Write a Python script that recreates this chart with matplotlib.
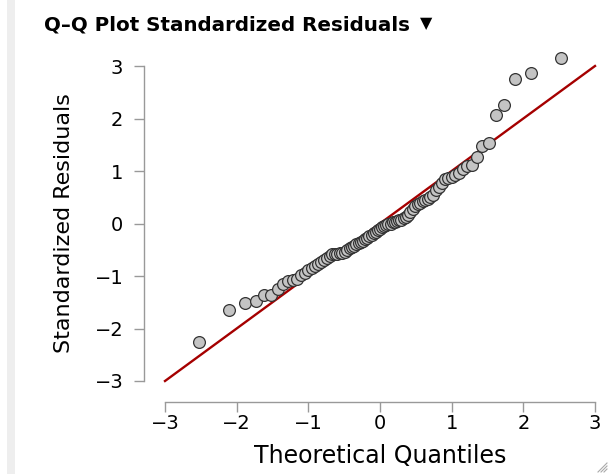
import matplotlib
matplotlib.use("Agg")
import matplotlib.pyplot as plt
from matplotlib.patches import Rectangle
from matplotlib.lines import Line2D
from statistics import NormalDist

# Sorted standardized residuals
residuals = [
    -2.25, -1.645, -1.51, -1.47, -1.37, -1.36, -1.24, -1.15, -1.09, -1.07,
    -1.05, -0.98, -0.94, -0.88, -0.84, -0.80, -0.77, -0.73, -0.70, -0.66,
    -0.62, -0.59, -0.58, -0.575, -0.57, -0.56, -0.55, -0.50, -0.47, -0.44,
    -0.42, -0.39, -0.38, -0.36, -0.33, -0.30, -0.27, -0.24, -0.22, -0.19,
    -0.16, -0.13, -0.10, -0.07, -0.05, -0.03, -0.01, 0.00, 0.02, 0.035,
    0.045, 0.06, 0.07, 0.10, 0.13, 0.17, 0.22, 0.28, 0.33, 0.37,
    0.39, 0.42, 0.44, 0.47, 0.51, 0.55, 0.63, 0.70, 0.78, 0.84,
    0.87, 0.89, 0.92, 0.96, 1.04, 1.09, 1.11, 1.26, 1.47, 1.54,
    2.06, 2.25, 2.75, 2.86, 3.16,
]
ticks = [-3, -2, -1, 0, 1, 2, 3]
tick_labels = ["\u22123", "\u22122", "\u22121", "0", "1", "2", "3"]
title = "Q\u2013Q Plot Standardized Residuals"
title_marker = "\u25BC"
xlabel = "Theoretical Quantiles"
ylabel = "Standardized Residuals"

n = len(residuals)
nd = NormalDist()
theoretical = [nd.inv_cdf((i + 0.5) / n) for i in range(n)]

W, H = 609, 474
fig = plt.figure(figsize=(W / 100, H / 100), dpi=100)
fig.patch.set_facecolor("white")

# left gray strip
fig.add_artist(Rectangle((7 / W, 0), 8 / W, 1, transform=fig.transFigure,
                         facecolor="#eeeeee", edgecolor="none"))

ax = fig.add_axes([165 / W, (H - 381) / H, 430 / W, 315 / H])
ax.set_xlim(-3, 3)
ax.set_ylim(-3, 3)
ax.patch.set_alpha(0)

ax.plot([-3, 3], [-3, 3], color="#a50000", lw=1.7, zorder=2, clip_on=False)
ax.scatter(theoretical, residuals, s=72, facecolor="#c4c4c4",
           edgecolor="#333333", linewidths=0.9, zorder=3, clip_on=False)

for side in ["top", "right"]:
    ax.spines[side].set_visible(False)
for side in ["left", "bottom"]:
    ax.spines[side].set_position(("outward", 15))
    ax.spines[side].set_color("#999999")
    ax.spines[side].set_linewidth(1.0)
ax.spines["left"].set_bounds(-3, 3)
ax.spines["bottom"].set_bounds(-3, 3)

ax.set_xticks(ticks)
ax.set_xticklabels(tick_labels)
ax.set_yticks(ticks)
ax.set_yticklabels(tick_labels)
ax.tick_params(axis="both", direction="out", length=7, width=1.0,
               color="#999999", labelsize=14, labelcolor="black")
ax.tick_params(axis="y", pad=8)
ax.tick_params(axis="x", pad=2)

ax.set_xlabel(xlabel, fontsize=17, labelpad=8)
ax.set_ylabel(ylabel, fontsize=16, labelpad=15)

fig.text(44 / W, 1 - 25 / H, title, fontsize=14.3, fontweight="bold",
         ha="left", va="center")
fig.text(420 / W, 1 - 24 / H, title_marker, fontsize=11.5,
         ha="left", va="center")

# resize grip at bottom-right
for k in range(3):
    d = 3 + 3 * k
    fig.add_artist(Line2D([(W - 2 - d) / W, (W - 2) / W], [2 / H, (2 + d) / H],
                          transform=fig.transFigure, color="#aaaaaa", lw=0.8))

fig.savefig("out.png", dpi=100)
